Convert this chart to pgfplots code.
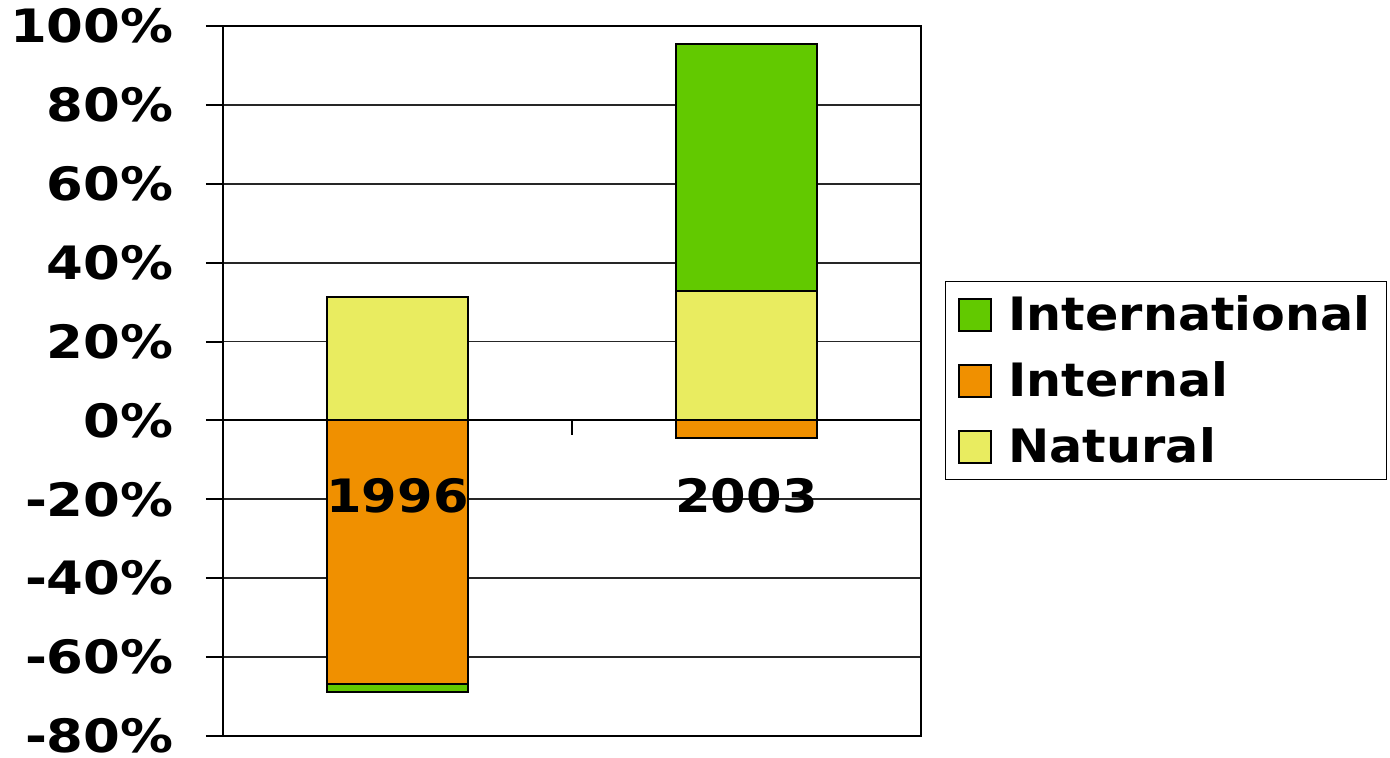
\documentclass[border=0pt]{standalone}
\usepackage{pgfplots}
\pgfplotsset{compat=1.18}
\usepackage{fontspec}
\setmainfont{DejaVu Sans}
\newfontfamily\tickfam[FakeStretch=1.15]{DejaVu Sans}
\newfontfamily\legfam[FakeStretch=1.07]{DejaVu Sans}
\definecolor{cintl}{HTML}{62C900}
\definecolor{cinter}{HTML}{F09000}
\definecolor{cnat}{HTML}{E9EC60}
\newcommand{\lbl}{\tickfam\fontsize{23bp}{27bp}\selectfont\bfseries}
\newcommand{\yr}{\legfam\fontsize{23bp}{27bp}\selectfont\bfseries\addfontfeature{FakeStretch=1.11}}
\newcommand{\leg}{\legfam\fontsize{23bp}{27bp}\selectfont\bfseries}

\begin{document}
\begin{tikzpicture}
\useasboundingbox (-111.5bp,-11bp) rectangle (583.5bp,368bp);
% bar extents (cumulative): segments overlap, last drawn on top
\begin{axis}[scale only axis,width=349bp,height=355bp,
  xmin=-0.5,xmax=1.5,ymin=-80,ymax=100,
  xtick=\empty,ytick={-80,-60,...,100},
  yticklabels={-80\%,-60\%,-40\%,-20\%,0\%,20\%,40\%,60\%,80\%,100\%},
  ymajorgrids,grid style={black!85,line width=0.9bp},
  axis line style={line width=1bp},
  tick align=outside,major tick length=8.5bp,tick style={black,line width=1bp},
  ytick pos=left,
  yticklabel style={font=\lbl,anchor=east,inner sep=0pt,xshift=-16bp},
  ybar,bar width=0.404,
  every axis plot/.append style={bar shift=0pt,draw=black,line width=1bp},
  legend image code/.code={\draw[#1,line width=1bp] (0bp,-8bp) rectangle (16bp,8bp);\path (22.5bp,0bp);},
  legend style={at={(rel axis cs:1.034,0.641)},anchor=north west,draw=black,line width=0.8bp,
    font=\leg,row sep=10bp,inner xsep=6bp,inner ysep=5bp,
    nodes={inner sep=2bp}},
  legend cell align=left]
\addlegendimage{fill=cintl,draw=black}
\addlegendentry{International}
\addlegendimage{fill=cinter,draw=black}
\addlegendentry{Internal}
\addlegendimage{fill=cnat,draw=black}
\addlegendentry{Natural}
\addplot[fill=cintl,forget plot] coordinates {(0,-68.9) (1,95.4)};
\addplot[fill=cnat,forget plot] coordinates {(0,31.3) (1,32.8)};
\addplot[fill=cinter,forget plot] coordinates {(0,-66.8) (1,-4.5)};
\draw[black,line width=1bp] (axis cs:-0.5,0) -- (axis cs:1.5,0);
\draw[black,line width=1bp] (axis cs:-0.5,0) -- ([yshift=-7.5bp]axis cs:-0.5,0);
\draw[black,line width=1bp] (axis cs:0.5,0) -- ([yshift=-7.5bp]axis cs:0.5,0);
\draw[black,line width=1bp] (axis cs:1.5,0) -- ([yshift=-7.5bp]axis cs:1.5,0);
\node[font=\yr] at (axis cs:0,-19) {1996};
\node[font=\yr] at (axis cs:1,-19) {2003};
\end{axis}
\end{tikzpicture}
\end{document}
